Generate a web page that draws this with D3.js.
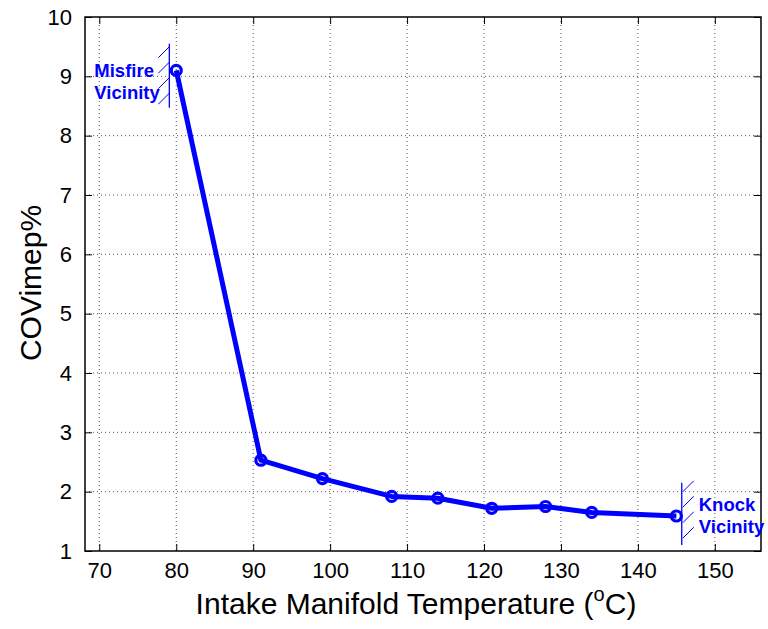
<!DOCTYPE html>
<html>
<head>
<meta charset="utf-8">
<script src="https://cdn.jsdelivr.net/npm/d3@7"></script>
<style>
  body { margin: 0; background: #fff; }
  svg { display: block; font-family: "Liberation Sans", Arial, sans-serif; }
</style>
</head>
<body>
<div id="chart"></div>
<script>
// intake manifold temperature (degC) vs COVimep (%)
const temps = [80, 91, 99, 108, 114, 121, 128, 134, 145];
const cov = [9.1, 2.53, 2.22, 1.92, 1.89, 1.72, 1.75, 1.65, 1.59];
const xTicks = [70, 80, 90, 100, 110, 120, 130, 140, 150];
const yTicks = [1, 2, 3, 4, 5, 6, 7, 8, 9, 10];
const notes = [
  { lines: ['Misfire', 'Vicinity'], x: 79.1, y0: 8.47, y1: 9.55, side: -1 },
  { lines: ['Knock', 'Vicinity'], x: 145.7, y0: 1.1, y1: 2.15, side: 1 }
];

const W = 768, H = 629;
const m = { t: 17, r: 7, b: 78, l: 85 };
const innerW = W - m.l - m.r;
const innerH = H - m.t - m.b;

const svg = d3.select('#chart').append('svg').attr('width', W).attr('height', H);
const g = svg.append('g').attr('transform', `translate(${m.l},${m.t})`);

const x = d3.scaleLinear().domain([68.14, 156.0]).range([0, innerW]);
const y = d3.scaleLinear().domain([1, 10]).range([innerH, 0]);

// dotted grid
g.append('g').selectAll('line').data(xTicks).enter().append('line')
  .attr('x1', d => x(d)).attr('x2', d => x(d)).attr('y1', 0).attr('y2', innerH)
  .attr('stroke', '#555').attr('stroke-width', 1).attr('stroke-dasharray', '1,3');
g.append('g').selectAll('line').data(yTicks.slice(1, -1)).enter().append('line')
  .attr('y1', d => y(d)).attr('y2', d => y(d)).attr('x1', 0).attr('x2', innerW)
  .attr('stroke', '#555').attr('stroke-width', 1).attr('stroke-dasharray', '1,3');

// axes with inward ticks
const axFont = (sel) => sel.selectAll('text').attr('font-size', 22).attr('fill', '#000')
  .attr('font-family', '"Liberation Sans", Arial, sans-serif');
const xb = g.append('g').attr('transform', `translate(0,${innerH})`)
  .call(d3.axisBottom(x).tickValues(xTicks).tickSize(-7).tickPadding(11).tickSizeOuter(0));
const xt = g.append('g')
  .call(d3.axisTop(x).tickValues(xTicks).tickSize(-7).tickFormat('').tickSizeOuter(0));
const yl = g.append('g')
  .call(d3.axisLeft(y).tickValues(yTicks).tickSize(-7).tickPadding(13).tickSizeOuter(0));
const yr = g.append('g').attr('transform', `translate(${innerW},0)`)
  .call(d3.axisRight(y).tickValues(yTicks).tickSize(-7).tickFormat('').tickSizeOuter(0));
[xb, xt, yl, yr].forEach(a => {
  a.select('.domain').remove();
  a.selectAll('line').attr('stroke', '#000');
  axFont(a);
});
xb.selectAll('text').attr('dy', '0.71em');

g.append('rect').attr('width', innerW).attr('height', innerH)
  .attr('fill', 'none').attr('stroke', '#000').attr('stroke-width', 1.5);

// data line and markers
const line = d3.line().x((d, i) => x(temps[i])).y(d => y(d));
g.append('path').datum(cov).attr('d', line)
  .attr('fill', 'none').attr('stroke', '#0000ff').attr('stroke-width', 5)
  .attr('stroke-linejoin', 'round');
g.selectAll('circle.pt').data(cov).enter().append('circle').attr('class', 'pt')
  .attr('cx', (d, i) => x(temps[i])).attr('cy', d => y(d)).attr('r', 5)
  .attr('fill', 'none').attr('stroke', '#0000ff').attr('stroke-width', 3.2);

// vicinity annotations, hatches drawn as "/" on the outer side of the limit line
notes.forEach(n => {
  const lx = x(n.x), top = y(n.y1), bot = y(n.y0);
  const a = g.append('g');
  a.append('line').attr('x1', lx).attr('x2', lx).attr('y1', top).attr('y2', bot)
    .attr('stroke', '#0000ff').attr('stroke-width', 1.3);
  for (let k = 0; k < 4; k++) {
    const yy = top + (n.side < 0 ? 3 : -2) + k * 15.5;
    const xa = n.side < 0 ? lx - 11 : lx + 1;
    a.append('line')
      .attr('x1', xa).attr('y1', yy + 11)
      .attr('x2', xa + 11).attr('y2', yy)
      .attr('stroke', '#0000ff').attr('stroke-width', 1);
  }
  const tx = n.side < 0 ? lx - 75 : lx + 17;
  const t0 = n.side < 0 ? y(9.0) + 0.5 : top + 28;
  n.lines.forEach((s, i) => {
    a.append('text').attr('x', tx).attr('y', t0 + i * 22.5).text(s)
      .attr('fill', '#0000ff').attr('font-weight', 'bold').attr('font-size', 18.5);
  });
});

// axis titles
const xl = svg.append('text').attr('x', m.l + 331).attr('y', 614)
  .attr('text-anchor', 'middle').attr('font-size', 30).attr('fill', '#000');
xl.append('tspan').text('Intake Manifold Temperature (');
xl.append('tspan').text('o').attr('font-size', 20).attr('dy', -13);
xl.append('tspan').text('C)').attr('dy', 13);

svg.append('text').attr('transform', 'translate(41,283) rotate(-90)')
  .attr('text-anchor', 'middle').attr('font-size', 30).attr('fill', '#000')
  .text('COVimep%');
</script>
</body>
</html>
